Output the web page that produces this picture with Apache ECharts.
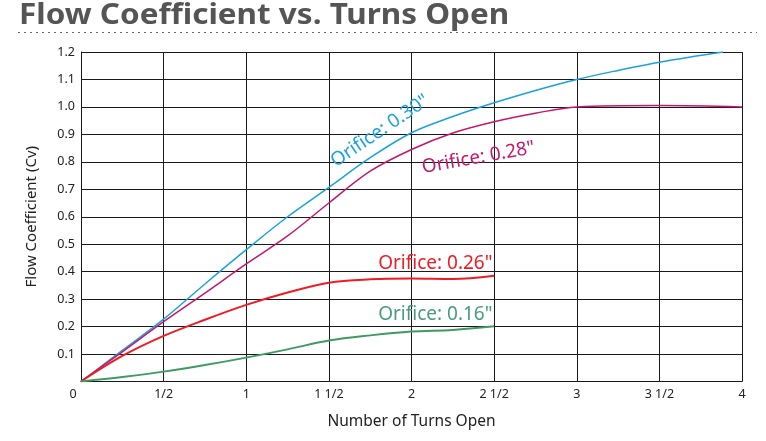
<!DOCTYPE html>
<html>
<head>
<meta charset="utf-8">
<script src="https://cdn.jsdelivr.net/npm/echarts@6/dist/echarts.min.js"></script>
<style>
html,body{margin:0;padding:0;background:#fff;}
#c{width:766px;height:441px;}
</style>
</head>
<body>
<div id="c"></div>
<script>
// ---- data ----
const titleText = 'Flow Coefficient vs. Turns Open';
const xAxisName = 'Number of Turns Open';
const yAxisName = 'Flow Coefficient (Cv)';
const xTickValues = [0, 0.5, 1, 1.5, 2, 2.5, 3, 3.5, 4];
const xTickLabels = ['0', '1/2', '1', '1 1/2', '2', '2 1/2', '3', '3 1/2', '4'];

const orifice30X = [0, 0.25, 0.5, 0.75, 1, 1.25, 1.5, 1.75, 2, 2.25, 2.5, 2.75, 3, 3.25, 3.5, 3.885];
const orifice30Y = [0, 0.113, 0.227, 0.355, 0.48, 0.60, 0.707, 0.815, 0.906, 0.965, 1.015, 1.06, 1.10, 1.133, 1.163, 1.2];

const orifice28X = [0, 0.25, 0.5, 0.75, 1, 1.25, 1.5, 1.75, 2, 2.25, 2.5, 2.75, 3, 3.5, 4];
const orifice28Y = [0, 0.108, 0.218, 0.322, 0.428, 0.53, 0.65, 0.766, 0.845, 0.905, 0.946, 0.977, 1.0, 1.005, 1.0];

const orifice26X = [0, 0.25, 0.5, 0.75, 1, 1.25, 1.5, 1.75, 2, 2.25, 2.5];
const orifice26Y = [0, 0.093, 0.166, 0.225, 0.279, 0.324, 0.36, 0.372, 0.375, 0.373, 0.385];

const orifice16X = [0, 0.25, 0.5, 0.75, 1, 1.25, 1.5, 1.75, 2, 2.25, 2.5];
const orifice16Y = [0, 0.016, 0.036, 0.06, 0.087, 0.117, 0.149, 0.168, 0.182, 0.188, 0.201];

const seriesNames = ['Orifice: 0.30"', 'Orifice: 0.28"', 'Orifice: 0.26"', 'Orifice: 0.16"'];
// ---- end data ----

const colors = ['#1ba1e2', '#c4186b', '#ee1c25', '#3f9a63'];
const labelColors = ['#1ba1e2', '#c4186b', '#ee1c25', '#4a9a7c'];
const zip = (xs, ys) => xs.map((x, i) => [x, ys[i]]);

const chart = echarts.init(document.getElementById('c'), null, {renderer: 'canvas'});
const FONT = '"Noto Sans", "Open Sans", sans-serif';

const mk = (i, xs, ys, w) => ({
  name: seriesNames[i], type: 'line', data: zip(xs, ys),
  smooth: 0.35, showSymbol: false, symbol: 'none',
  lineStyle: {color: colors[i], width: w}, itemStyle: {color: colors[i]},
  z: 3, silent: true
});

chart.setOption({
  animation: false,
  backgroundColor: '#fff',
  textStyle: {fontFamily: FONT},
  grid: {left: 81, right: 24, top: 52, bottom: 59.5, containLabel: false},
  xAxis: {
    type: 'value', min: 0, max: 4, interval: 0.5,
    name: xAxisName, nameLocation: 'middle', nameGap: 32,
    nameTextStyle: {fontSize: 15.5, color: '#222', fontFamily: FONT},
    axisLine: {show: true, lineStyle: {color: '#1a1a1a', width: 1}},
    axisTick: {show: false},
    splitLine: {show: true, lineStyle: {color: '#1a1a1a', width: 1}},
    axisLabel: {
      margin: 6, fontSize: 12.5, color: '#222', fontFamily: FONT,
      formatter: v => {
        const i = xTickValues.indexOf(v);
        const t = i >= 0 ? xTickLabels[i] : '';
        return v === 0 ? '{z|' + t + '}' : t;
      },
      rich: {z: {fontSize: 12.5, color: '#222', padding: [0, 16, 0, 0]}}
    }
  },
  yAxis: {
    type: 'value', min: 0, max: 1.2, interval: 0.1,
    name: yAxisName, nameLocation: 'middle', nameGap: 42,
    nameTextStyle: {fontSize: 15, color: '#222', fontFamily: FONT},
    axisLine: {show: true, lineStyle: {color: '#1a1a1a', width: 1}},
    axisTick: {show: false},
    splitLine: {show: true, lineStyle: {color: '#1a1a1a', width: 1}},
    axisLabel: {
      margin: 6, fontSize: 12.5, color: '#222', fontFamily: FONT,
      formatter: v => (Math.abs(v) < 1e-9 ? '' : v.toFixed(1))
    }
  },
  series: [
    mk(0, orifice30X, orifice30Y, 1.5),
    mk(1, orifice28X, orifice28Y, 1.5),
    mk(2, orifice26X, orifice26Y, 2),
    mk(3, orifice16X, orifice16Y, 2)
  ]
});

// Series labels positioned from data coordinates
const labelSpecs = [
  {i: 0, at: [1.81, 0.912], rot: 34, align: 'center'},
  {i: 1, at: [2.405, 0.815], rot: 10, align: 'center'},
  {i: 2, at: [2.49, 0.4285], rot: 0, align: 'right'},
  {i: 3, at: [2.49, 0.243], rot: 0, align: 'right'}
];
const graphics = [
  {
    type: 'text', x: 19, y: 1, scaleX: 1.085, z: 10,
    style: {text: titleText, font: 'bold 29px ' + FONT, fill: '#555555', verticalAlign: 'top', align: 'left'}
  },
  {
    type: 'line', z: 10,
    shape: {x1: 18, y1: 32.5, x2: 757, y2: 32.5},
    style: {stroke: '#666', lineWidth: 1, lineDash: [2, 4]}
  }
];
labelSpecs.forEach(s => {
  const p = chart.convertToPixel({gridIndex: 0}, s.at);
  graphics.push({
    type: 'text', x: p[0], y: p[1], rotation: s.rot * Math.PI / 180, z: 10,
    style: {
      text: seriesNames[s.i], fill: labelColors[s.i],
      font: '19px ' + FONT, align: s.align, verticalAlign: 'middle'
    }
  });
});
chart.setOption({graphic: graphics});
</script>
</body>
</html>
